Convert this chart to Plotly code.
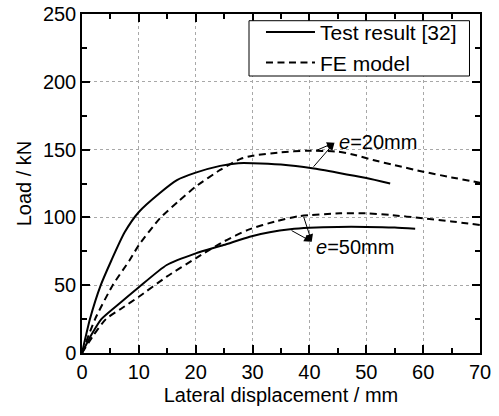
import plotly.graph_objects as go

# Test result, e = 20 mm
test20_x = [0, 1.4, 3.3, 5.2, 7.5, 10, 13.7, 16.7, 20, 24.3, 27.5, 30, 35, 40.5, 45, 50, 54.2]
test20_y = [0, 25, 50, 68.6, 89, 104, 118, 127.5, 133, 138, 140, 140, 139, 136.3, 133, 129, 125]

# FE model, e = 20 mm
fe20_x = [0, 2.3, 5.4, 8.4, 10, 13.7, 17, 20, 24.3, 27.8, 30, 35, 39.5, 45, 48, 51.2, 55, 60, 65, 70]
fe20_y = [0, 25, 50, 68.6, 79.6, 99.3, 112, 122.7, 135, 143, 145.5, 148, 149.2, 148.5, 146, 142.3, 138.5, 133.7, 129.5, 125.6]

# Test result, e = 50 mm
test50_x = [0, 1.6, 3.4, 7, 10, 14.9, 20, 24.9, 29.5, 33, 36.6, 40, 45, 50, 55, 58.6]
test50_y = [0, 13, 25, 38, 48.5, 64.9, 73.5, 79.6, 85.8, 89, 91.2, 92.3, 93, 93, 92.5, 91.6]

# FE model, e = 50 mm
fe50_x = [0, 2, 4.2, 7, 10, 14.9, 20, 24.9, 29.3, 34, 38.3, 45.4, 50, 54.2, 60, 65, 70]
fe50_y = [0, 13, 25, 33, 41.5, 56.3, 69.8, 82.1, 91, 97, 101, 103, 103, 101.8, 99.3, 97, 94.4]

x_ticks = [0, 10, 20, 30, 40, 50, 60, 70]
y_ticks = [0, 50, 100, 150, 200, 250]

FONT = "Liberation Sans, Arial, sans-serif"
solid = dict(color="black", width=2)
dashed = dict(color="black", width=2, dash="7px,4.5px")

fig = go.Figure()
fig.add_trace(go.Scatter(x=test20_x, y=test20_y, mode="lines", line=dict(**solid, shape="spline", smoothing=0.6),
                         name="Test result [32]", legendgroup="t"))
fig.add_trace(go.Scatter(x=fe20_x, y=fe20_y, mode="lines", line=dict(**dashed, shape="spline", smoothing=0.6),
                         name="FE model", legendgroup="f"))
fig.add_trace(go.Scatter(x=test50_x, y=test50_y, mode="lines", line=dict(**solid, shape="spline", smoothing=0.6),
                         name="Test result [32]", showlegend=False))
fig.add_trace(go.Scatter(x=fe50_x, y=fe50_y, mode="lines", line=dict(**dashed, shape="spline", smoothing=0.6),
                         name="FE model", showlegend=False))

def arrow(x, y, ax, ay, head=2):
    fig.add_annotation(x=x, y=y, ax=ax, ay=ay, xref="x", yref="y", axref="x", ayref="y",
                       text="", showarrow=True, arrowhead=head, arrowsize=1.5, arrowwidth=1,
                       arrowcolor="black", standoff=0, startstandoff=0)

# e = 20 mm
arrow(44.4, 155.1, 40.5, 136.3)
arrow(44.4, 155.1, 41.0, 149.0)
fig.add_annotation(x=44.8, y=155.6, xref="x", yref="y", text="<i>e</i>=20mm", showarrow=False,
                   xanchor="left", yanchor="middle", font=dict(size=20, color="black", family=FONT))
# e = 50 mm
arrow(40.4, 82.1, 36.6, 90.9)
arrow(40.4, 82.1, 38.9, 101.5)
fig.add_annotation(x=40.8, y=78.2, xref="x", yref="y", text="<i>e</i>=50mm", showarrow=False,
                   xanchor="left", yanchor="middle", font=dict(size=20, color="black", family=FONT))

axis_common = dict(
    showline=True, linecolor="black", linewidth=1.5, mirror="allticks",
    ticks="inside", ticklen=8, tickwidth=1.5, tickcolor="black",
    showgrid=True, gridcolor="#a8a8a8", gridwidth=1, griddash="3px,3px",
    zeroline=False, automargin=False, tickfont=dict(size=20, color="black", family=FONT),
)

fig.update_xaxes(range=[0, 70], tickvals=x_ticks, ticktext=[str(v) for v in x_ticks],
                 minor=dict(ticks="inside", ticklen=5, tickwidth=1.5, tickcolor="black", dtick=5, tick0=0, showgrid=False),
                 title=dict(text="Lateral displacement / mm", font=dict(size=20, color="black", family=FONT), standoff=6),
                 **axis_common)
fig.update_yaxes(range=[0, 250], tickvals=y_ticks, ticktext=[str(v) for v in y_ticks],
                 minor=dict(ticks="inside", ticklen=5, tickwidth=1.5, tickcolor="black", dtick=25, tick0=0, showgrid=False),
                 title=dict(text="Load / kN", font=dict(size=20, color="black", family=FONT), standoff=6),
                 **axis_common)

# legend frame (white box, as in the reference)
fig.add_shape(type="rect", xref="paper", yref="paper", x0=0.4196, x1=0.9736, y0=0.8171, y1=0.9802,
              fillcolor="white", line=dict(color="black", width=1), layer="above")

fig.update_layout(
    width=499, height=416,
    margin=dict(l=82, r=19, t=14, b=63, autoexpand=False),
    plot_bgcolor="white", paper_bgcolor="white",
    font=dict(family=FONT, size=20, color="black"),
    legend=dict(x=0.4497, y=1.006, xanchor="left", yanchor="top",
                bgcolor="rgba(0,0,0,0)", borderwidth=0,
                font=dict(size=21, color="black", family=FONT),
                itemwidth=49, tracegroupgap=0),
)

fig.write_html("out.html")
